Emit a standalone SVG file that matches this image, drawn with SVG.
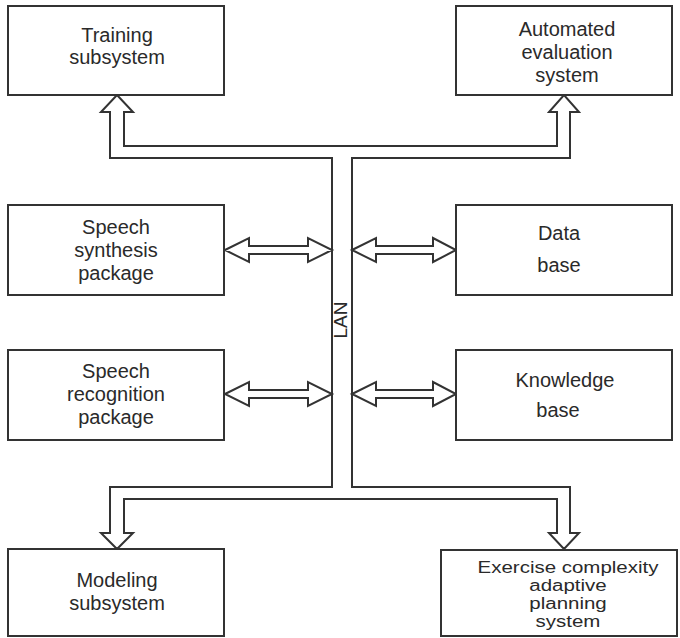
<svg xmlns="http://www.w3.org/2000/svg" width="680" height="638" viewBox="0 0 680 638">
  <style>
    .box { fill: #ffffff; stroke: #333333; stroke-width: 2; }
    .pipe { fill: #ffffff; stroke: #333333; stroke-width: 2; stroke-linejoin: miter; }
    .lbl { font-family: "Liberation Sans", Arial, sans-serif; font-size: 20px; fill: #2a2a2a; text-anchor: middle; }
    .tight { font-size: 16px; }
  </style>
  <rect x="0" y="0" width="680" height="638" fill="#ffffff"/>

  <!-- LAN bus with its four branch arrows, and the bidirectional links -->
  <g id="connectors">
    <path class="pipe" d="M117,95 L133,112 L124,112 L124,146 L557,146 L557,112 L549,112 L564,95 L579,112 L570,112 L570,158 L352,158 L352,487 L570,487 L570,533 L579,533 L564,549 L549,533 L557,533 L557,499 L124,499 L124,533 L133,533 L117,549 L101,533 L110,533 L110,487 L332,487 L332,158 L110,158 L110,112 L101,112 Z"/>
    <polygon class="pipe" points="225,250 249,238 249,246 308,246 308,238 332,250 308,262 308,254 249,254 249,262"/>
    <polygon class="pipe" points="352,250 376,238 376,246 433,246 433,238 456,250 433,262 433,254 376,254 376,262"/>
    <polygon class="pipe" points="225,394 249,382 249,390 308,390 308,382 332,394 308,406 308,398 249,398 249,406"/>
    <polygon class="pipe" points="352,394 376,382 376,390 433,390 433,382 456,394 433,406 433,398 376,398 376,406"/>
    <text class="lbl" transform="translate(347,320) rotate(-90)" style="font-size:19px">LAN</text>
  </g>

  <g id="training">
    <rect class="box" x="8" y="6" width="216" height="89"/>
    <text class="lbl" x="117" y="42">Training</text>
    <text class="lbl" x="117" y="64">subsystem</text>
  </g>

  <g id="evaluation">
    <rect class="box" x="456" y="6" width="216" height="89"/>
    <text class="lbl" x="567" y="36">Automated</text>
    <text class="lbl" x="567" y="59">evaluation</text>
    <text class="lbl" x="567" y="82">system</text>
  </g>

  <g id="synthesis">
    <rect class="box" x="8" y="205" width="216" height="90"/>
    <text class="lbl" x="116" y="234">Speech</text>
    <text class="lbl" x="116" y="257">synthesis</text>
    <text class="lbl" x="116" y="280">package</text>
  </g>

  <g id="database">
    <rect class="box" x="456" y="205" width="216" height="90"/>
    <text class="lbl" x="559" y="240">Data</text>
    <text class="lbl" x="559" y="272">base</text>
  </g>

  <g id="recognition">
    <rect class="box" x="8" y="350" width="216" height="90"/>
    <text class="lbl" x="116" y="378">Speech</text>
    <text class="lbl" x="116" y="401">recognition</text>
    <text class="lbl" x="116" y="424">package</text>
  </g>

  <g id="knowledge">
    <rect class="box" x="456" y="350" width="216" height="90"/>
    <text class="lbl" x="565" y="387">Knowledge</text>
    <text class="lbl" x="558" y="417">base</text>
  </g>

  <g id="modeling">
    <rect class="box" x="8" y="549" width="216" height="87"/>
    <text class="lbl" x="117" y="587">Modeling</text>
    <text class="lbl" x="117" y="610">subsystem</text>
  </g>

  <g id="planning">
    <rect class="box" x="441" y="550" width="236" height="86"/>
    <!-- wide-set lettering, stretched horizontally about the box's text axis -->
    <g transform="translate(568,0) scale(1.28,1)">
      <text class="lbl tight" x="0" y="573">Exercise complexity</text>
      <text class="lbl tight" x="0" y="591">adaptive</text>
      <text class="lbl tight" x="0" y="609">planning</text>
      <text class="lbl tight" x="0" y="627">system</text>
    </g>
  </g>
</svg>
